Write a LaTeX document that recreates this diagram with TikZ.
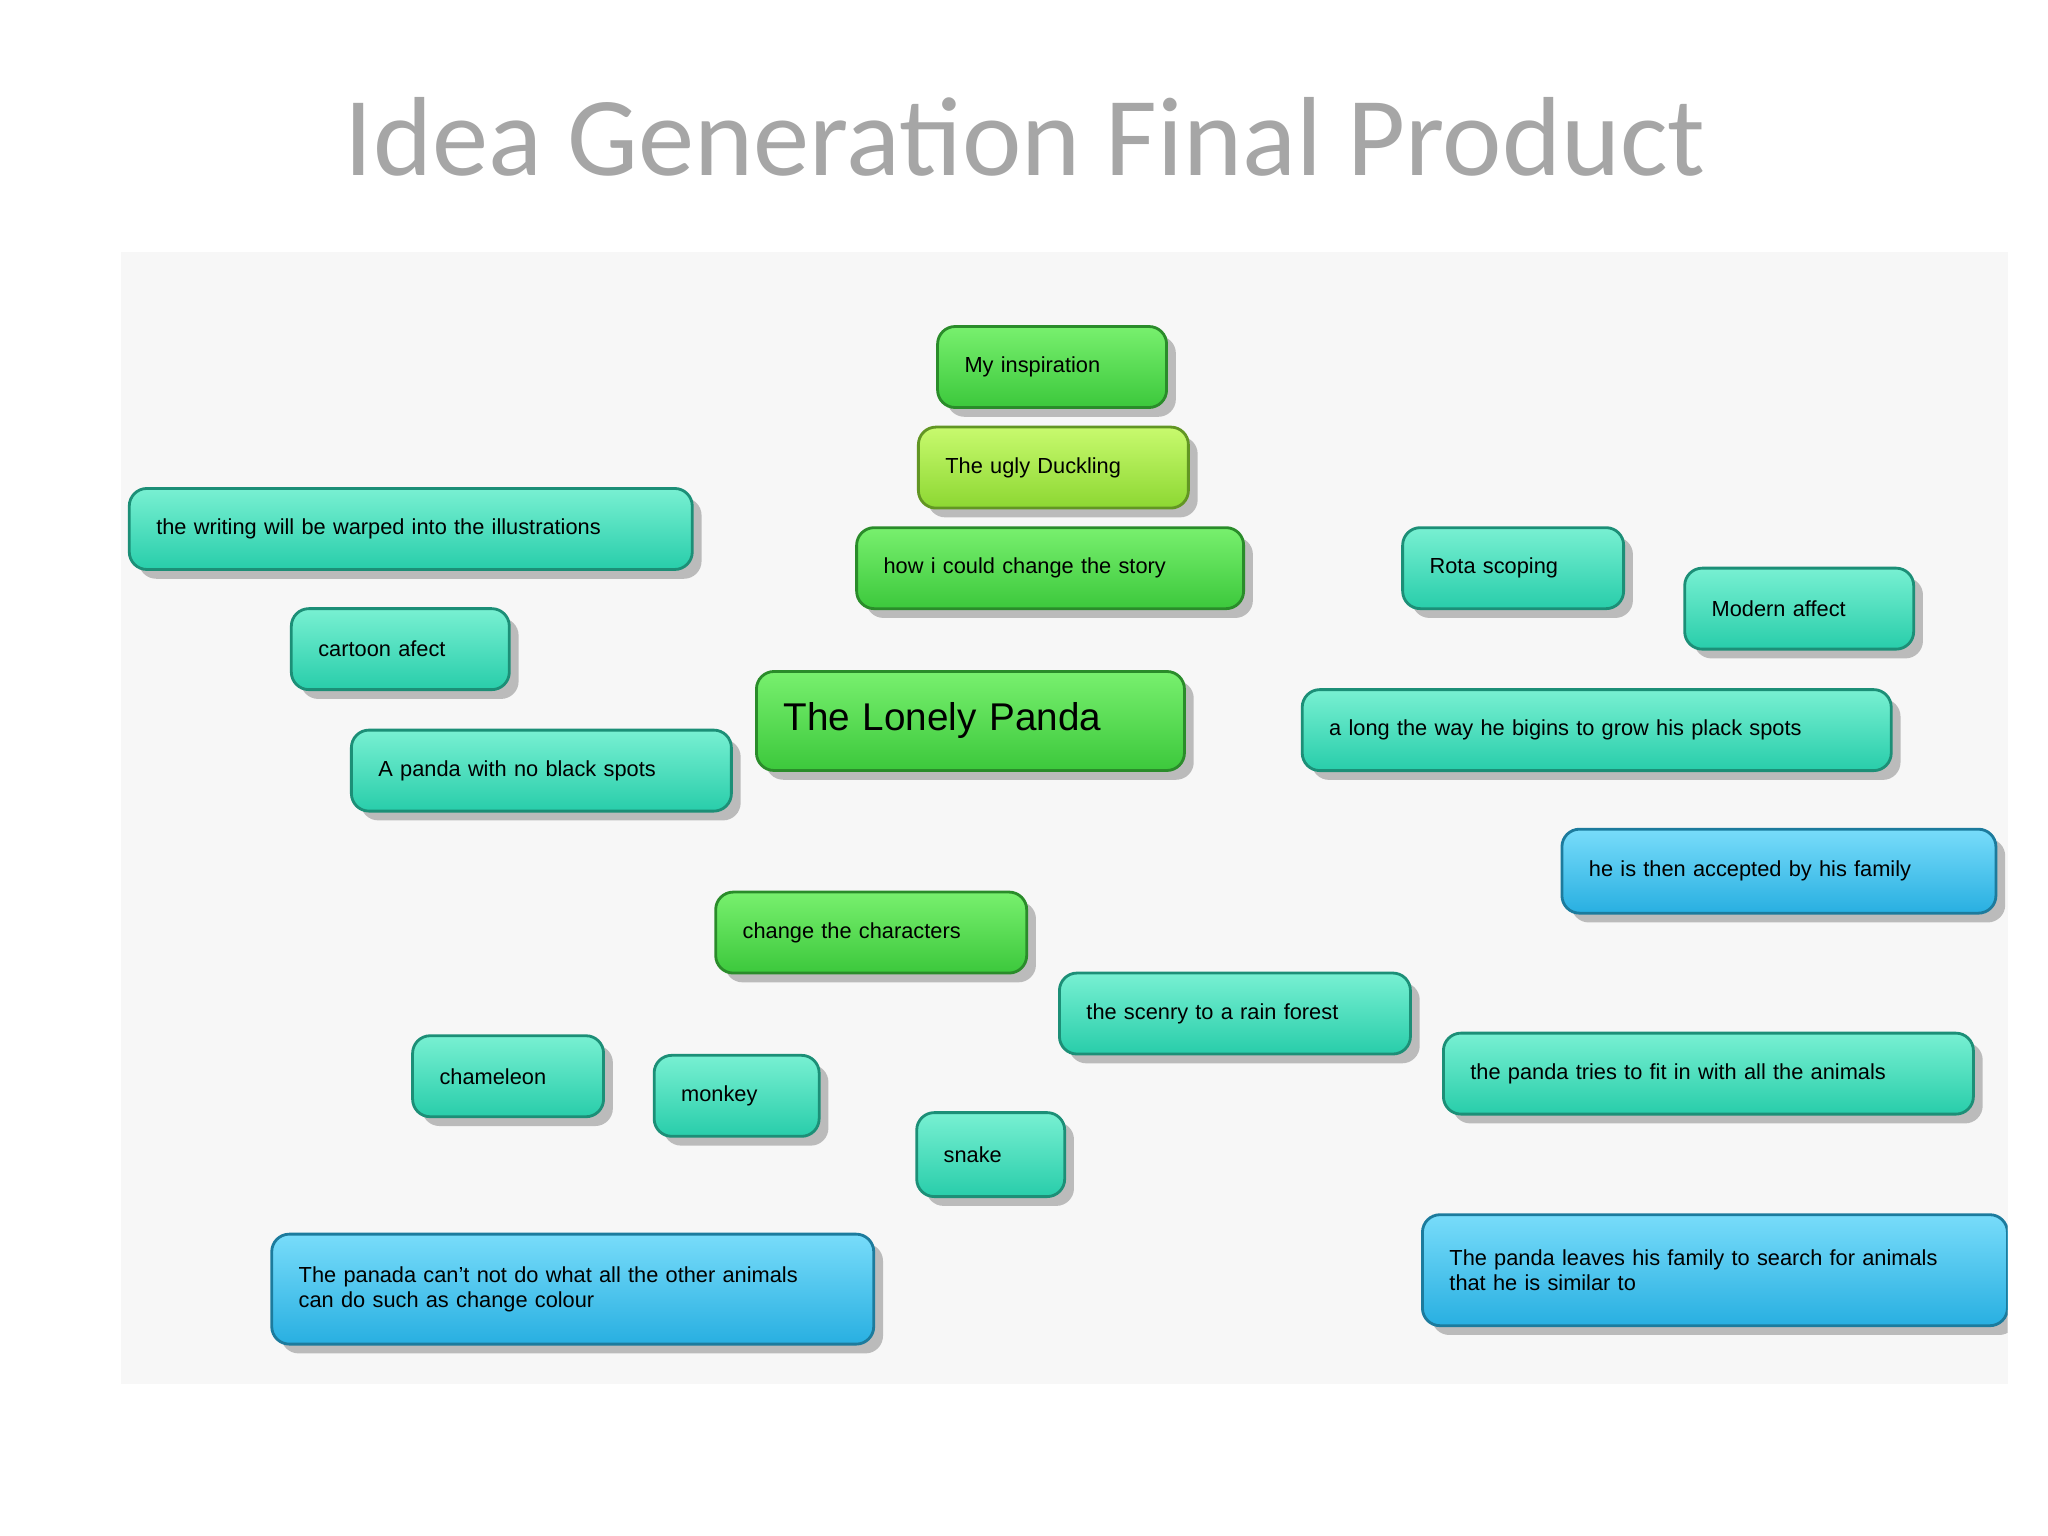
\documentclass[tikz,border=0pt]{standalone}
\usepackage{fontspec}
\setmainfont{Liberation Sans}
\newfontfamily\titlefont{Carlito}
\usetikzlibrary{backgrounds}
\definecolor{tealtop}{RGB}{120,240,210}
\definecolor{tealbot}{RGB}{40,205,170}
\definecolor{greentop}{RGB}{120,240,110}
\definecolor{greenbot}{RGB}{60,200,60}
\definecolor{limetop}{RGB}{200,250,110}
\definecolor{limebot}{RGB}{140,215,50}
\definecolor{bluetop}{RGB}{120,220,250}
\definecolor{bluebot}{RGB}{40,175,225}
\definecolor{linkgray}{RGB}{70,70,70}
\tikzset{
  box/.style={rounded corners=5pt, draw=#1bot!70!black, line width=0.8pt,
    top color=#1top, bottom color=#1bot, align=left, inner xsep=0.27cm,
    minimum height=0.81cm, font=\fontsize{6.2}{7}\selectfont, drop shadow},
  link/.style={draw=linkgray, line width=2.2pt},
  thinlink/.style={draw=linkgray, line width=1pt},
}
\usetikzlibrary{shadows}
\begin{document}
\begin{tikzpicture}[x=0.01306cm, y=-0.01306cm]
  \useasboundingbox (0,0) rectangle (1568,1176);
  \fill[white] (0,0) rectangle (1568,1176);
  \node[text=gray!70, font=\titlefont\fontsize{32}{36}\selectfont] (title) at (785,105) {Idea Generation Final Product};
  \fill[gray!6] (93,193) rectangle (1537,1060);
  \begin{scope}
  \clip (93,193) rectangle (1537,1060);
  % centre
  \node[box=green, text width=3.74cm, minimum height=0.99cm, font=\fontsize{11}{13}\selectfont] (panda) at (743,552) {The Lonely Panda};
  % top chain
  \node[box=green, text width=1.75cm] (insp) at (805.5,281) {My inspiration};
  \node[box=lime, text width=2.16cm] (duck) at (806.5,358) {The ugly Duckling};
  \node[box=green, text width=3.33cm] (story) at (804,435) {how i could change the story};
  \coordinate (far) at (1560,262);
  % left side
  \node[box=teal, text width=5.09cm] (writing) at (314.5,405) {the writing will be warped into the illustrations};
  \node[box=teal, text width=1.64cm] (cartoon) at (306.5,497) {cartoon afect};
  \node[box=teal, text width=3.26cm] (nospots) at (414.5,590) {A panda with no black spots};
  \node[box=green, text width=2.57cm] (chars) at (667,714) {change the characters};
  \node[box=teal, text width=1.37cm] (cham) at (389,824) {chameleon};
  \node[box=teal, text width=1.11cm] (monkey) at (564,839) {monkey};
  \node[box=teal, text width=0.94cm, minimum height=0.84cm] (snake) at (758.5,884) {snake};
  \node[box=blue, text width=5.48cm, minimum height=1.1cm] (panada) at (438.5,987) {The panada can't not do what all the other animals\\can do such as change colour};
  % right side
  \node[box=teal, text width=2.97cm] (scenry) at (945.5,776) {the scenry to a rain forest};
  \node[box=teal, text width=1.67cm] (rota) at (1158.5,435) {Rota scoping};
  \node[box=teal, text width=1.75cm] (modern) at (1377.5,466) {Modern affect};
  \node[box=teal, text width=5.35cm] (along) at (1222.5,559) {a long the way he bigins to grow his plack spots};
  \node[box=blue, text width=3.8cm, minimum height=0.84cm] (accepted) at (1362,667) {he is then accepted by his family};
  \node[box=teal, text width=4.76cm] (tries) at (1308,822) {the panda tries to fit in with all the animals};
  \node[box=blue, text width=5.31cm, minimum height=1.11cm] (leaves) at (1313,972.5) {The panda leaves his family to search for animals\\that he is similar to};
  % links
  \begin{scope}[on background layer]
    \draw[link] (insp) -- (duck);
    \draw[link] (duck) -- (story);
    \draw[thinlink, line width=1.5pt] (duck.east) -- (far);
    \draw[link, line width=3pt] (story) -- (panda);
    \draw[link] (panda) -- (writing);
    \draw[link, line width=1.5pt] (panda) -- (cartoon);
    \draw[thinlink] (panda) -- (chars);
    \draw[link] (chars) -- (nospots);
    \draw[link] (chars) -- (cham);
    \draw[link] (chars) -- (monkey);
    \draw[link] (chars) -- (snake);
    \draw[link] (cham) -- (panada);
    \draw[link] (panda) -- (scenry);
    \draw[link] (panda) -- (rota);
    \draw[link] (panda) -- (modern);
    \draw[link] (panda) -- (along);
    \draw[link] (along) -- (accepted);
    \draw[link] (panda) -- (tries);
    \draw[link] (tries) -- (leaves);
  \end{scope}
  \end{scope}
\end{tikzpicture}
\end{document}
